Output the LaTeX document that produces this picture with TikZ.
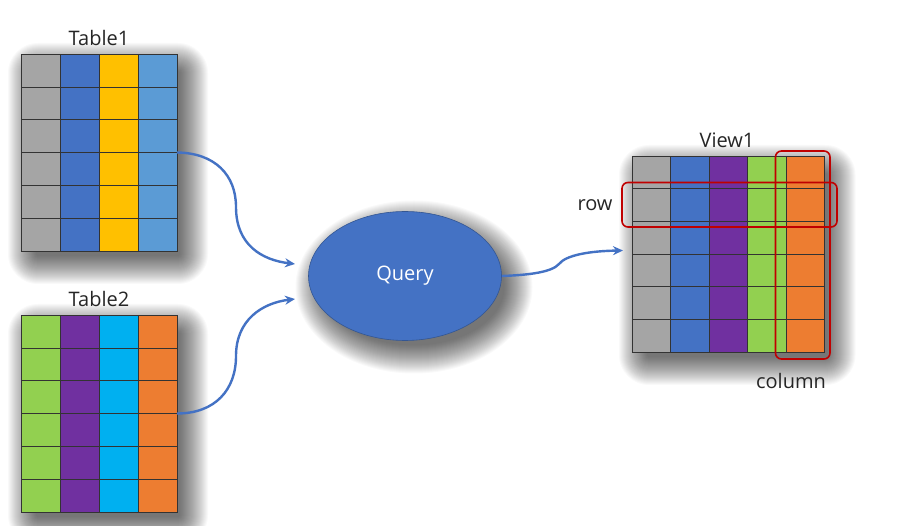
\documentclass[tikz,border=0pt]{standalone}
\usepackage{fontspec}
\setmainfont{Open Sans}
\usetikzlibrary{shapes.geometric,arrows.meta}

\definecolor{cgray}{HTML}{A5A5A5}
\definecolor{cblue}{HTML}{4472C4}
\definecolor{cyellow}{HTML}{FFC000}
\definecolor{clblue}{HTML}{5B9BD5}
\definecolor{cgreen}{HTML}{92D050}
\definecolor{cpurple}{HTML}{7030A0}
\definecolor{ccyan}{HTML}{00B0F0}
\definecolor{corange}{HTML}{ED7D31}
\definecolor{cred}{HTML}{C00000}
\definecolor{ctext}{HTML}{262626}

% soft shadow behind a box: corners (x1,y1) (x2,y2)
\newcommand{\softbox}[4]{%
  \foreach \i [evaluate=\i as \rc using \i+8] in {-6,...,22}
    \fill[black, opacity=0.024, rounded corners=\rc pt]
      (#1+9-\i,#2+11-\i) rectangle (#3+9+\i,#4+11+\i);}

\tikzset{
  tbl/.style={minimum width=156pt, minimum height=197pt, inner sep=0pt,
      outer sep=0pt},
  cell/.style={draw=black!80, line width=0.6pt},
  lbl/.style={text=ctext, font=\fontsize{20}{24}\selectfont, inner sep=1pt},
  hl/.style={draw=cred, line width=1.6pt, rounded corners=6pt},
  link/.style={draw=cblue, line width=2.4pt, -{Stealth[length=10pt,width=9pt]}}
}

\begin{document}
\begin{tikzpicture}[x=1pt,y=-1pt]
  \useasboundingbox[fill=white] (0,0) rectangle (924,526);

  % shadows
  \softbox{21}{54}{177}{251}
  \softbox{21}{315}{177}{512}
  \softbox{632}{156}{824.5}{352}
  \foreach \i in {-6,...,22}
    \fill[black, opacity=0.024] (414,287) ellipse ({96.5+\i} and {64.5+\i});

  % source tables
  \node[tbl] (t1) at (99,152.5) {};
  \foreach \c/\col in {0/cgray,1/cblue,2/cyellow,3/clblue}
    \foreach \r in {0,...,5}
      \draw[cell,fill=\col] (21+\c*39,54+\r*32.83) rectangle +(39,32.83);
  \node[lbl] (t1lbl) at (99,38) {Table1};

  \node[tbl] (t2) at (99,413.5) {};
  \foreach \c/\col in {0/cgreen,1/cpurple,2/ccyan,3/corange}
    \foreach \r in {0,...,5}
      \draw[cell,fill=\col] (21+\c*39,315+\r*32.83) rectangle +(39,32.83);
  \node[lbl] (t2lbl) at (99,299) {Table2};

  % query
  \node[ellipse, fill=cblue, draw=cblue!75!black, line width=0.6pt,
        minimum width=193pt, minimum height=129pt, text=white,
        font=\fontsize{20}{24}\selectfont] (query) at (405,276) {Query};

  % result view
  \node[tbl, minimum width=192.5pt, minimum height=196pt] (v1) at (728,254) {};
  \foreach \c/\col in {0/cgray,1/cblue,2/cpurple,3/cgreen,4/corange}
    \foreach \r in {0,...,5}
      \draw[cell,fill=\col] (632+\c*38.5,156+\r*32.67) rectangle +(38.5,32.67);
  \node[lbl] (v1lbl) at (727,140) {View1};

  \draw[hl] (622,182.5) rectangle (837,227);
  \draw[hl] (775.5,151) rectangle (830,359);
  \node[lbl] (rowlbl) at (595,205) {row};
  \node[lbl] (collbl) at (791,381) {column};

  % connectors
  \coordinate (q1) at (295,264);
  \coordinate (q2) at (295,299);
  \coordinate (vin) at (623,250.5);
  \draw[link] (t1.east) .. controls (215,153) and (236,175) .. (236,207)
              .. controls (236,245) and (262,260) .. (q1);
  \draw[link] (t2.east) .. controls (215,413.5) and (236,390) .. (236,356)
              .. controls (236,320) and (262,303) .. (q2);
  \draw[link] (query.east) .. controls (530,275) and (552,272) .. (559,264)
              .. controls (566,255) and (590,251) .. (vin);
\end{tikzpicture}
\end{document}
